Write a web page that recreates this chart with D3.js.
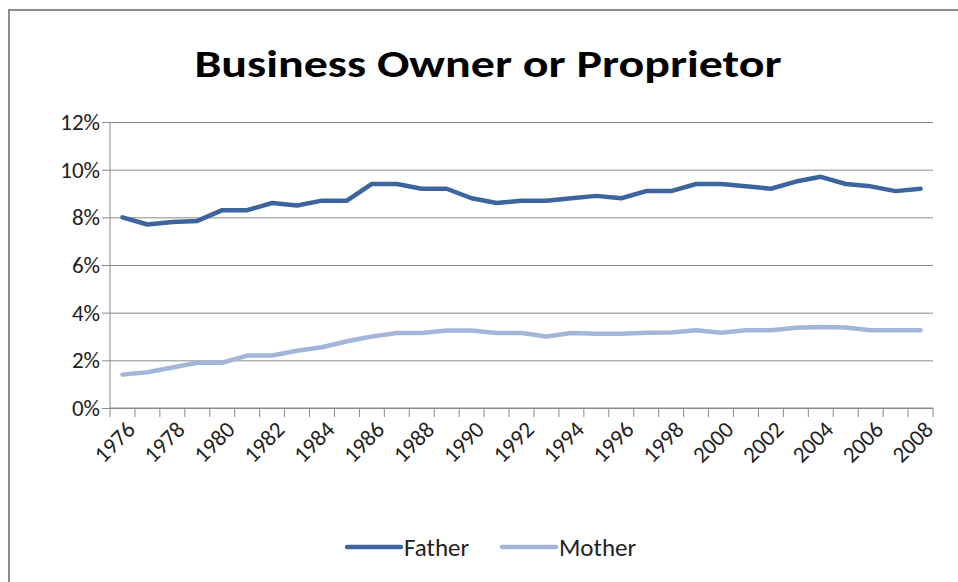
<!DOCTYPE html>
<html>
<head>
<meta charset="utf-8">
<script src="https://cdn.jsdelivr.net/npm/d3@7"></script>
<style>
  body { margin: 0; background: #fff; }
  text { font-family: Carlito, "Liberation Sans", sans-serif; }
</style>
</head>
<body>
<div id="chart"></div>
<script>
// data (percent)
var years = d3.range(1976, 2009);
var father = [8.0, 7.7, 7.8, 7.85, 8.3, 8.3, 8.6, 8.5, 8.7, 8.7, 9.4, 9.4, 9.2, 9.2, 8.8, 8.6,
              8.7, 8.7, 8.8, 8.9, 8.8, 9.1, 9.1, 9.4, 9.4, 9.3, 9.2, 9.5, 9.7, 9.4, 9.3, 9.1, 9.2];
var mother = [1.4, 1.5, 1.7, 1.9, 1.9, 2.2, 2.2, 2.4, 2.55, 2.8, 3.0, 3.15, 3.15, 3.25, 3.25, 3.15,
              3.15, 3.0, 3.15, 3.12, 3.12, 3.16, 3.17, 3.26, 3.16, 3.26, 3.26, 3.37, 3.4, 3.38, 3.26, 3.26, 3.26];
var yTicks = [0, 2, 4, 6, 8, 10, 12];
var xLabels = years.filter(d => (d - 1976) % 2 === 0);
var seriesNames = ["Father", "Mother"];
var colors = ["#3b659c", "#a3b6d9"];

const W = 958, H = 582;
const margin = { top: 122, right: 25, bottom: 174, left: 110 };
const width = W - margin.left - margin.right;
const height = H - margin.top - margin.bottom;

const svg = d3.select("#chart").append("svg")
  .attr("width", W)
  .attr("height", H);

// outer chart border
svg.append("rect")
  .attr("x", 9).attr("y", 10)
  .attr("width", W + 20).attr("height", H + 20)
  .attr("fill", "none")
  .attr("stroke", "#8c8c8c")
  .attr("stroke-width", 2);

svg.append("text")
  .attr("x", 488).attr("y", 77)
  .attr("text-anchor", "middle")
  .attr("font-size", 38)
  .attr("font-weight", "bold")
  .attr("textLength", 587)
  .attr("lengthAdjust", "spacingAndGlyphs")
  .text("Business Owner or Proprietor");

const g = svg.append("g")
  .attr("transform", `translate(${margin.left},${margin.top})`);

const x = d3.scaleBand().domain(years).range([0, width]);
const y = d3.scaleLinear().domain([0, 12]).range([height, 0]);

// gridlines + y axis
const yAxis = g.append("g")
  .call(d3.axisLeft(y).tickValues(yTicks).tickSize(-width).tickSizeOuter(0).tickFormat(d => d + "%"));
yAxis.select(".domain").remove();
yAxis.selectAll(".tick line").attr("stroke", "#8a8a8a").attr("x1", -8);
yAxis.selectAll(".tick text")
  .attr("x", -10)
  .attr("font-size", 23)
  .attr("fill", "#222")
  .attr("font-family", "Carlito, 'Liberation Sans', sans-serif");

g.append("line")
  .attr("x1", 0).attr("x2", 0).attr("y1", 0).attr("y2", height)
  .attr("stroke", "#8a8a8a");

// x axis with ticks on category boundaries
const xAxisG = g.append("g").attr("transform", `translate(0,${height})`);
xAxisG.append("line")
  .attr("x1", 0).attr("x2", width)
  .attr("stroke", "#8a8a8a");
xAxisG.selectAll(".bound")
  .data(years.concat([2009]))
  .enter().append("line")
  .attr("x1", (d, i) => i * x.bandwidth())
  .attr("x2", (d, i) => i * x.bandwidth())
  .attr("y1", 0).attr("y2", 9)
  .attr("stroke", "#8a8a8a");
xAxisG.selectAll(".lbl")
  .data(xLabels)
  .enter().append("text")
  .attr("transform", d => `translate(${x(d) + x.bandwidth() / 2 + 14},${23}) rotate(-45)`)
  .attr("text-anchor", "end")
  .attr("font-size", 23)
  .attr("fill", "#222")
  .text(d => d);

// lines
const line = d3.line()
  .x((d, i) => x(years[i]) + x.bandwidth() / 2)
  .y(d => y(d));

[father, mother].forEach((s, k) => {
  g.append("path")
    .datum(s)
    .attr("fill", "none")
    .attr("stroke", colors[k])
    .attr("stroke-width", 4.5)
    .attr("stroke-linejoin", "round")
    .attr("stroke-linecap", "round")
    .attr("d", line);
});

// legend
const legendPos = [345, 500];
seriesNames.forEach((name, k) => {
  const lg = svg.append("g").attr("transform", `translate(${legendPos[k]},547)`);
  lg.append("line")
    .attr("x1", 2).attr("x2", 56)
    .attr("stroke", colors[k])
    .attr("stroke-width", 4.5)
    .attr("stroke-linecap", "round");
  lg.append("text")
    .attr("x", 59).attr("y", 9)
    .attr("font-size", 25)
    .attr("fill", "#222")
    .text(name);
});
</script>
</body>
</html>
